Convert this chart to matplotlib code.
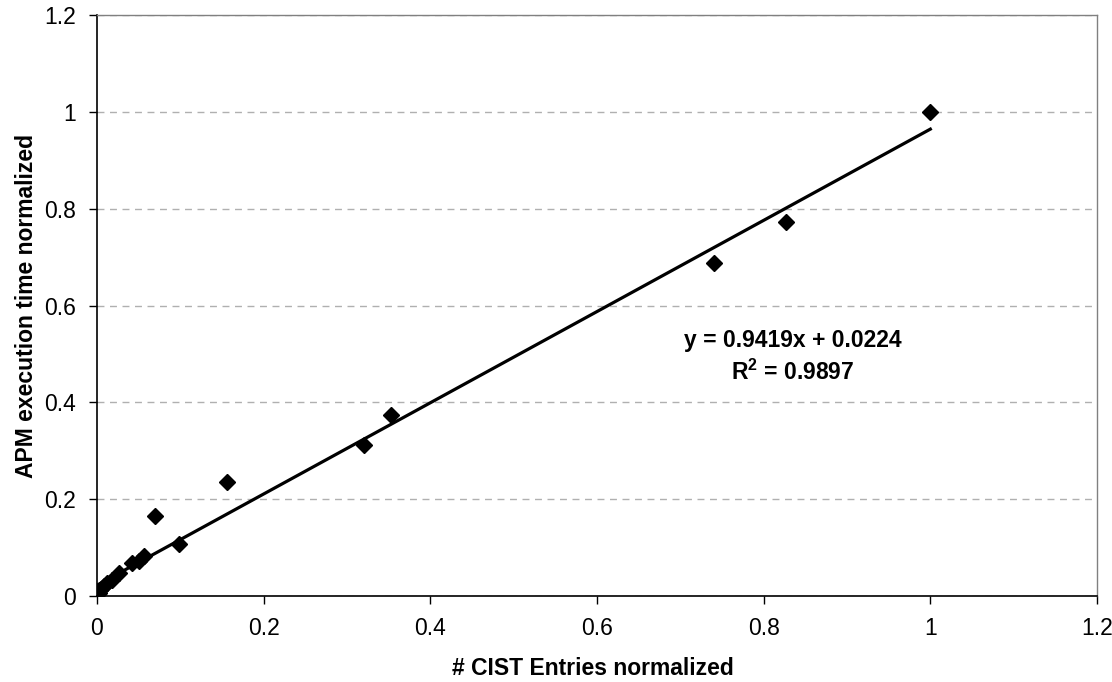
import matplotlib
matplotlib.use('Agg')
import matplotlib.pyplot as plt
import numpy as np

plt.rcParams['font.family'] = ['Liberation Sans', 'DejaVu Sans']
plt.rcParams['mathtext.fontset'] = 'custom'
plt.rcParams['mathtext.bf'] = 'Liberation Sans:bold'

# normalized CIST entries vs APM execution time
cist = [1.0, 0.827, 0.741, 0.353, 0.321, 0.156, 0.099, 0.070,
        0.056, 0.050, 0.042, 0.026, 0.018, 0.012, 0.008, 0.004, 0.002]
apm = [1.0, 0.772, 0.688, 0.373, 0.311, 0.236, 0.107, 0.165,
       0.082, 0.073, 0.069, 0.048, 0.033, 0.026, 0.021, 0.012, 0.006]
slope, intercept, r2 = 0.9419, 0.0224, 0.9897

fig = plt.figure(figsize=(11.12, 6.82), dpi=100)
ax = fig.add_axes([0.0872, 0.126, 0.8993, 0.852])

xs = np.array([0.0, 1.0])
ax.plot(xs, slope * xs + intercept, color='black', lw=2.3, zorder=2)
ax.plot(cist, apm, linestyle='none', marker='D', ms=8, color='black', zorder=3)

ax.set_xlim(0, 1.2)
ax.set_ylim(0, 1.2)
ticks = [0, 0.2, 0.4, 0.6, 0.8, 1, 1.2]
labels = ['0', '0.2', '0.4', '0.6', '0.8', '1', '1.2']
ax.set_xticks(ticks, labels)
ax.set_yticks(ticks, labels)
ax.tick_params(direction='out', length=6, width=1, labelsize=16.5, pad=9)
ax.yaxis.grid(True, color='#b0b0b0', linestyle=(0, (5, 4)), lw=1)
ax.set_axisbelow(True)

for s in ['top', 'right']:
    ax.spines[s].set_color('#808080')
    ax.spines[s].set_linewidth(1)
for s in ['left', 'bottom']:
    ax.spines[s].set_linewidth(1.2)

ax.set_xlabel('# CIST Entries normalized', fontsize=16.5, fontweight='bold')
ax.set_ylabel('APM execution time normalized', fontsize=16.5, fontweight='bold')
ax.xaxis.set_label_coords(0.496, -0.105)
ax.yaxis.set_label_coords(-0.059, 0.5)

ax.text(0.835, 0.528, 'y = %.4fx + %.4f' % (slope, intercept), ha='center', va='center',
        fontsize=16.5, fontweight='bold')
ax.text(0.835, 0.462, r'R$^\mathbf{2}$ = %.4f' % r2, ha='center', va='center',
        fontsize=16.5, fontweight='bold')

fig.savefig('out.png', dpi=100)
